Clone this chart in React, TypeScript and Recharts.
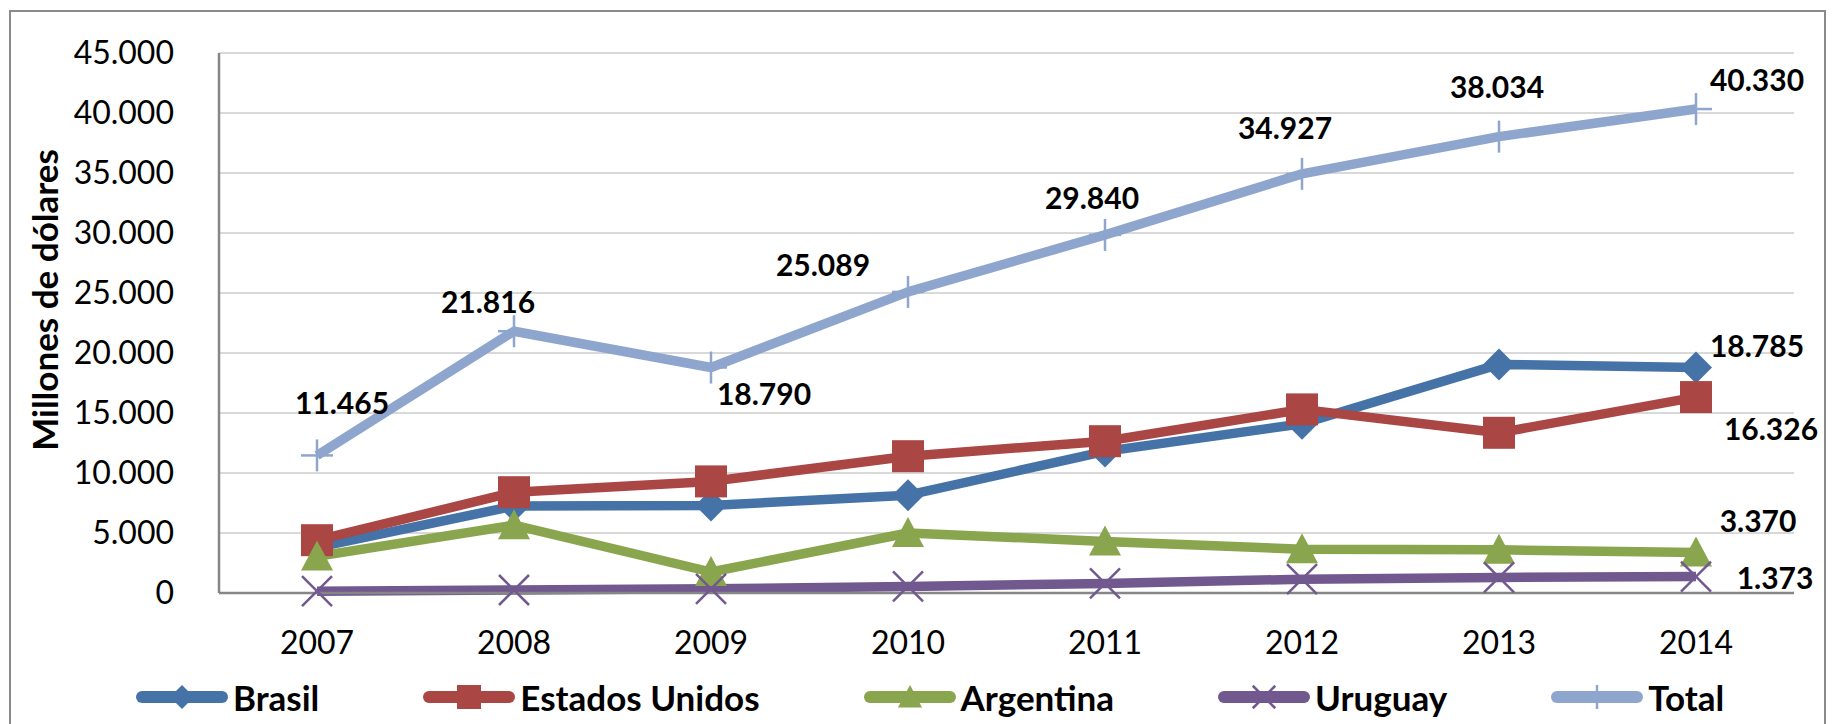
import React from 'react';
import { LineChart, Line, XAxis, YAxis, CartesianGrid, Legend, LabelList } from 'recharts';

const years = ['2007', '2008', '2009', '2010', '2011', '2012', '2013', '2014'];
const brasil = [3800, 7250, 7300, 8150, 11800, 14100, 19050, 18785];
const estadosUnidos = [4400, 8400, 9300, 11400, 12650, 15300, 13350, 16326];
const argentina = [3050, 5650, 1750, 5000, 4300, 3650, 3600, 3370];
const uruguay = [150, 250, 350, 550, 800, 1150, 1300, 1373];
const total = [11465, 21816, 18790, 25089, 29840, 34927, 38034, 40330];
const yTicks = [0, 5000, 10000, 15000, 20000, 25000, 30000, 35000, 40000, 45000];

const data = years.map((year, i) => ({
  year,
  brasil: brasil[i],
  estadosUnidos: estadosUnidos[i],
  argentina: argentina[i],
  uruguay: uruguay[i],
  total: total[i],
}));

const C_BRASIL = '#4572A7';
const C_EEUU = '#AA4643';
const C_ARG = '#89A54E';
const C_URU = '#71588F';
const C_TOTAL = '#8EA6CD';

const FONT = 'Lato, "Open Sans", sans-serif';
const LINE_W = 9.5;

// label offsets (style, not data)
const totalLabelOffsets = [
  [25, -53], [-26, -30], [53, 25], [-85, -28], [-13, -38], [-17, -47], [-2, -51], [61, -30],
];
const lastLabelOffsets: Record<string, [number, number]> = {
  brasil: [61, -23],
  estadosUnidos: [75, 31],
  argentina: [62, -33],
  uruguay: [79, 0],
};

const fmt = (v: number) => String(Math.round(v)).replace(/\B(?=(\d{3})+(?!\d))/g, '.');

const Diamond = ({ cx, cy, color, s = 1 }: any) => (
  <polygon
    points={`${cx},${cy - 16 * s} ${cx + 16 * s},${cy} ${cx},${cy + 16 * s} ${cx - 16 * s},${cy}`}
    fill={color}
  />
);
const Square = ({ cx, cy, color, s = 1 }: any) => (
  <rect x={cx - 16 * s} y={cy - 16 * s} width={32 * s} height={32 * s} fill={color} />
);
const Triangle = ({ cx, cy, color, s = 1 }: any) => (
  <polygon
    points={`${cx},${cy - 16 * s} ${cx + 16 * s},${cy + 14 * s} ${cx - 16 * s},${cy + 14 * s}`}
    fill={color}
  />
);
const XMark = ({ cx, cy, color, s = 1 }: any) => (
  <g stroke={color} strokeWidth={2.5}>
    <line x1={cx - 15 * s} y1={cy - 15 * s} x2={cx + 15 * s} y2={cy + 15 * s} />
    <line x1={cx - 15 * s} y1={cy + 15 * s} x2={cx + 15 * s} y2={cy - 15 * s} />
  </g>
);
const Plus = ({ cx, cy, color, s = 1 }: any) => (
  <g stroke={color} strokeWidth={2.5}>
    <line x1={cx - 16 * s} y1={cy} x2={cx + 16 * s} y2={cy} />
    <line x1={cx} y1={cy - 16 * s} x2={cx} y2={cy + 16 * s} />
  </g>
);

const shapes: Record<string, any> = {
  diamond: Diamond,
  square: Square,
  triangle: Triangle,
  x: XMark,
  plus: Plus,
};

const makeDot = (shape: string, color: string) => (p: any) => {
  const Shape = shapes[shape];
  if (p.cx == null || p.cy == null) return <g key={`${shape}-e-${p.index}`} />;
  return (
    <g key={`${shape}-${p.index}`}>
      <Shape cx={p.cx} cy={p.cy} color={color} />
    </g>
  );
};

const labelStyle = { fontFamily: FONT, fontWeight: 700, fontSize: 30, fill: '#000' };

const totalLabel = (p: any) => {
  const [dx, dy] = totalLabelOffsets[p.index] || [0, -30];
  return (
    <text
      key={`tl-${p.index}`}
      x={p.x + dx}
      y={p.y + dy}
      textAnchor="middle"
      dominantBaseline="central"
      style={labelStyle}
    >
      {fmt(p.value)}
    </text>
  );
};

const lastLabel = (key: string) => (p: any) => {
  if (p.index !== years.length - 1) return null;
  const [dx, dy] = lastLabelOffsets[key];
  return (
    <text
      key={`ll-${key}`}
      x={p.x + dx}
      y={p.y + dy}
      textAnchor="middle"
      dominantBaseline="central"
      style={labelStyle}
    >
      {fmt(p.value)}
    </text>
  );
};

const legendItems = [
  { name: 'Brasil', color: C_BRASIL, shape: 'diamond' },
  { name: 'Estados Unidos', color: C_EEUU, shape: 'square' },
  { name: 'Argentina', color: C_ARG, shape: 'triangle' },
  { name: 'Uruguay', color: C_URU, shape: 'x' },
  { name: 'Total', color: C_TOTAL, shape: 'plus' },
];

const renderLegend = () => (
  <div style={{ display: 'flex', alignItems: 'center', whiteSpace: 'nowrap' }}>
    {legendItems.map((it, i) => {
      const Shape = shapes[it.shape];
      return (
        <div
          key={it.name}
          style={{
            display: 'flex',
            alignItems: 'center',
            marginRight: i === legendItems.length - 1 ? 0 : 104,
          }}
        >
          <svg width={92} height={32} style={{ display: 'block' }}>
            <line x1={6} y1={16} x2={86} y2={16} stroke={it.color} strokeWidth={12} strokeLinecap="round" />
            <Shape cx={46} cy={16} color={it.color} s={0.75} />
          </svg>
          <span
            style={{
              marginLeft: 5,
              fontFamily: FONT,
              fontWeight: 700,
              fontSize: 35,
              color: '#000',
              lineHeight: '32px',
            }}
          >
            {it.name}
          </span>
        </div>
      );
    })}
  </div>
);

export default function App() {
  return (
    <div
      style={{
        position: 'absolute',
        left: 0,
        top: 0,
        width: 1835,
        height: 724,
        overflow: 'hidden',
        background: '#fff',
      }}
    >
      <div
        style={{
          position: 'absolute',
          left: 9,
          top: 10,
          width: 1817,
          height: 800,
          border: '2.5px solid #8a8a8a',
          boxSizing: 'border-box',
        }}
      />
      <div style={{ position: 'absolute', left: 0, top: 0 }}>
        <LineChart
          width={1835}
          height={724}
          data={data}
          margin={{ top: 53, right: 41, bottom: 101, left: 0 }}
        >
          <CartesianGrid horizontal vertical={false} stroke="#d9d9d9" strokeWidth={2} />
          <XAxis
            dataKey="year"
            height={30}
            padding={{ left: 98, right: 98 }}
            tickLine={false}
            tickSize={0}
            tickMargin={38}
            axisLine={{ stroke: '#868686', strokeWidth: 2.5 }}
            tick={{ fill: '#000', fontFamily: FONT, fontSize: 32 }}
            interval={0}
          />
          <YAxis
            width={219}
            domain={[0, 45000]}
            ticks={yTicks}
            tickFormatter={fmt}
            tickLine={false}
            tickSize={0}
            tickMargin={45}
            axisLine={{ stroke: '#868686', strokeWidth: 2.5 }}
            tick={{ fill: '#000', fontFamily: FONT, fontSize: 32 }}
            interval={0}
          />
          <Legend
            layout="horizontal"
            verticalAlign="middle"
            align="center"
            wrapperStyle={{ top: 681, left: 136, width: 'auto' }}
            content={renderLegend}
          />
          <Line
            dataKey="brasil"
            name="Brasil"
            stroke={C_BRASIL}
            strokeWidth={LINE_W}
            strokeLinejoin="round"
            dot={makeDot('diamond', C_BRASIL)}
            activeDot={false}
            isAnimationActive={false}
          >
            <LabelList dataKey="brasil" content={lastLabel('brasil')} />
          </Line>
          <Line
            dataKey="estadosUnidos"
            name="Estados Unidos"
            stroke={C_EEUU}
            strokeWidth={LINE_W}
            strokeLinejoin="round"
            dot={makeDot('square', C_EEUU)}
            activeDot={false}
            isAnimationActive={false}
          >
            <LabelList dataKey="estadosUnidos" content={lastLabel('estadosUnidos')} />
          </Line>
          <Line
            dataKey="argentina"
            name="Argentina"
            stroke={C_ARG}
            strokeWidth={LINE_W}
            strokeLinejoin="round"
            dot={makeDot('triangle', C_ARG)}
            activeDot={false}
            isAnimationActive={false}
          >
            <LabelList dataKey="argentina" content={lastLabel('argentina')} />
          </Line>
          <Line
            dataKey="uruguay"
            name="Uruguay"
            stroke={C_URU}
            strokeWidth={LINE_W}
            strokeLinejoin="round"
            dot={makeDot('x', C_URU)}
            activeDot={false}
            isAnimationActive={false}
          >
            <LabelList dataKey="uruguay" content={lastLabel('uruguay')} />
          </Line>
          <Line
            dataKey="total"
            name="Total"
            stroke={C_TOTAL}
            strokeWidth={LINE_W}
            strokeLinejoin="round"
            dot={makeDot('plus', C_TOTAL)}
            activeDot={false}
            isAnimationActive={false}
          >
            <LabelList dataKey="total" content={totalLabel} />
          </Line>
        </LineChart>
      </div>
      <div
        style={{
          position: 'absolute',
          left: 44,
          top: 300,
          transform: 'translate(-50%, -50%) rotate(-90deg)',
          whiteSpace: 'nowrap',
          fontFamily: FONT,
          fontWeight: 700,
          fontSize: 35,
          color: '#000',
        }}
      >
        Millones de dólares
      </div>
    </div>
  );
}
